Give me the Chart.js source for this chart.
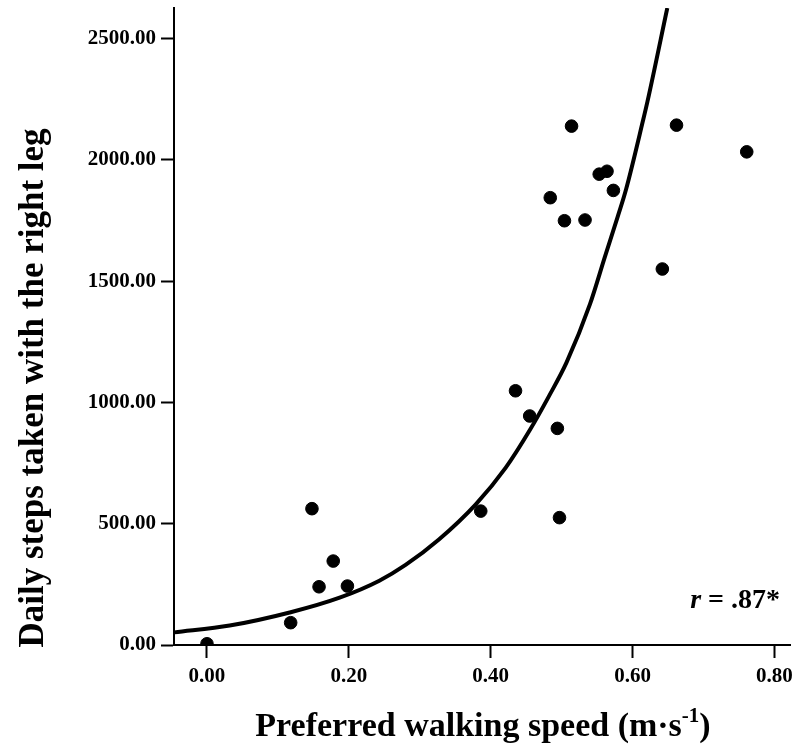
<!DOCTYPE html>
<html>
<head>
<meta charset="utf-8">
<script src="https://cdn.jsdelivr.net/npm/chart.js@4/dist/chart.umd.min.js"></script>
<style>
  body { margin: 0; background: #fff; }
  #box { width: 792px; height: 752px; }
</style>
</head>
<body>
<div id="box"><canvas id="walkChart" width="792" height="752"></canvas></div>
<script>
// walking speed (m/s) and daily steps, one entry per participant
const speedX = [0.00, 0.118, 0.148, 0.158, 0.178, 0.198, 0.386, 0.435, 0.455, 0.484, 0.494,
                0.497, 0.504, 0.514, 0.533, 0.553, 0.564, 0.573, 0.642, 0.662, 0.761];
const stepsY = [5, 92, 562, 240, 346, 243, 552, 1048, 944, 1844, 893,
                525, 1749, 2139, 1752, 1941, 1953, 1874, 1550, 2143, 2033];

// fitted curve, points
const fitX = [-0.046, 0.032, 0.118, 0.187, 0.243, 0.280, 0.327, 0.379, 0.421, 0.455,
              0.482, 0.507, 0.540, 0.561, 0.579, 0.591, 0.615, 0.621, 0.649];
const fitY = [52, 80, 135, 195, 265, 330, 435, 580, 730, 885,
              1025, 1165, 1405, 1600, 1765, 1880, 2165, 2240, 2626];

const xTicks = [0.0, 0.2, 0.4, 0.6, 0.8];
const yTicks = [0, 500, 1000, 1500, 2000, 2500];

const SERIF = '"Liberation Serif", "Times New Roman", serif';

// axis titles + r annotation drawn on top
const textPlugin = {
    id: 'labels',
    afterDraw(chart) {
        const ctx = chart.ctx;
        ctx.save();
        ctx.fillStyle = '#000';
        ctx.textBaseline = 'alphabetic';

        // y title
        ctx.save();
        ctx.translate(43, 388);
        ctx.rotate(-Math.PI / 2);
        ctx.font = 'bold 35px ' + SERIF;
        ctx.textAlign = 'center';
        ctx.fillText('Daily steps taken with the right leg', 0, 0);
        ctx.restore();

        // x title with superscript
        const main = 'Preferred walking speed (m\u00B7s';
        const sup = '-1';
        const tail = ')';
        ctx.font = 'bold 34px ' + SERIF;
        const w1 = ctx.measureText(main).width;
        const w3 = ctx.measureText(tail).width;
        ctx.font = 'bold 21px ' + SERIF;
        const w2 = ctx.measureText(sup).width;
        let x = 483 - (w1 + w2 + w3) / 2;
        ctx.textAlign = 'left';
        ctx.font = 'bold 34px ' + SERIF;
        ctx.fillText(main, x, 736);
        x += w1;
        ctx.font = 'bold 21px ' + SERIF;
        ctx.fillText(sup, x, 722);
        x += w2;
        ctx.font = 'bold 34px ' + SERIF;
        ctx.fillText(tail, x, 736);

        // r = .87*
        ctx.font = 'bold 28px ' + SERIF;
        const rest = ' = .87*';
        const wr = ctx.measureText(rest).width;
        ctx.textAlign = 'right';
        ctx.fillText(rest, 780, 608);
        ctx.font = 'italic bold 28px ' + SERIF;
        ctx.fillText('r', 780 - wr, 608);
        ctx.restore();
    }
};

new Chart(document.getElementById('walkChart'), {
    type: 'scatter',
    data: {
        datasets: [
            {
                label: 'participants',
                data: speedX.map((v, i) => ({ x: v, y: stepsY[i] })),
                backgroundColor: '#000',
                borderColor: '#000',
                pointRadius: 6.3,
                pointHoverRadius: 6.3,
                order: 1
            },
            {
                label: 'fit',
                data: fitX.map((v, i) => ({ x: v, y: fitY[i] })),
                showLine: true,
                borderColor: '#000',
                borderWidth: 4,
                pointRadius: 0,
                cubicInterpolationMode: 'monotone',
                order: 2
            }
        ]
    },
    options: {
        responsive: false,
        animation: false,
        layout: { autoPadding: false, padding: { left: 0, top: 8, right: 2, bottom: 0 } },
        plugins: {
            legend: { display: false },
            tooltip: { enabled: false }
        },
        scales: {
            x: {
                type: 'linear',
                min: -0.0465,
                max: 0.822,
                afterFit(scale) {
                    scale.height = 107;
                    scale.paddingLeft = 0;
                    scale.paddingRight = 0;
                },
                afterBuildTicks(scale) { scale.ticks = xTicks.map(v => ({ value: v })); },
                grid: { drawOnChartArea: false, tickLength: 13, tickWidth: 2, tickColor: '#000' },
                border: { color: '#000', width: 2 },
                ticks: {
                    padding: 6,
                    color: '#000',
                    font: { family: SERIF, size: 21, weight: 'bold' },
                    callback: v => v.toFixed(2)
                }
            },
            y: {
                min: 0,
                max: 2626,
                afterFit(scale) {
                    scale.width = 174;
                    scale.paddingTop = 0;
                    scale.paddingBottom = 0;
                },
                afterBuildTicks(scale) { scale.ticks = yTicks.map(v => ({ value: v })); },
                grid: { drawOnChartArea: false, tickLength: 13, tickWidth: 2, tickColor: '#000' },
                border: { color: '#000', width: 2 },
                ticks: {
                    padding: 5,
                    color: '#000',
                    font: { family: SERIF, size: 21, weight: 'bold' },
                    callback: v => v.toFixed(2)
                }
            }
        }
    },
    plugins: [textPlugin]
});
</script>
</body>
</html>
